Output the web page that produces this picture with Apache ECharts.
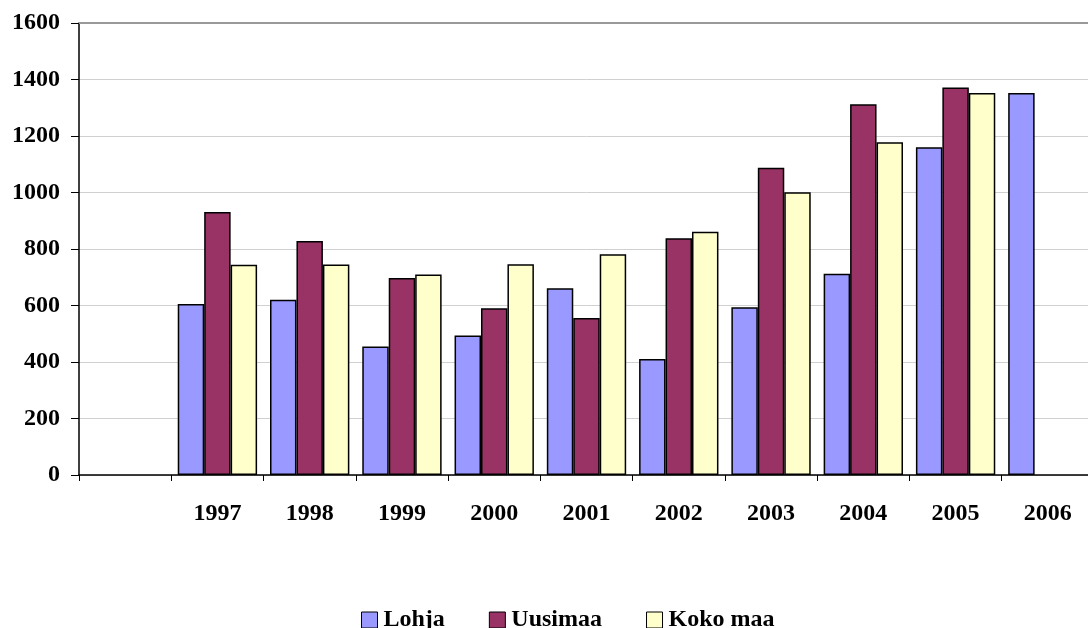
<!DOCTYPE html>
<html>
<head>
<meta charset="utf-8">
<script src="https://cdn.jsdelivr.net/npm/echarts@6/dist/echarts.min.js"></script>
<style>
  html, body { margin: 0; padding: 0; background: #fff; overflow: hidden; }
  #chart { width: 1095px; height: 628px; }
</style>
</head>
<body>
<div id="chart"></div>
<script>
// vuodet (ensimmäinen luokka tyhjä)
const years = ['', '1997', '1998', '1999', '2000', '2001', '2002', '2003', '2004', '2005', '2006']
const lohja = [null, 605, 620, 455, 494, 661, 411, 594, 712, 1160, 1352]
const uusimaa = [null, 931, 828, 697, 590, 556, 838, 1088, 1312, 1372, null]
const kokoMaa = [null, 744, 745, 710, 746, 781, 861, 1001, 1178, 1352, null]

const font = '"Liberation Serif", "Times New Roman", serif'
const chart = echarts.init(document.getElementById('chart'))

const bar = (name, data, color) => ({
  name,
  type: 'bar',
  data,
  barGap: '0%',
  barCategoryGap: '14%',
  itemStyle: {color, borderColor: '#000', borderWidth: 1.5}
})

chart.setOption({
  animation: false,
  textStyle: {fontFamily: font},
  // plot area runs a little past the right edge of the window
  grid: {left: 79, right: 1, top: 23, height: 452},
  legend: {
    top: 603,
    left: 356,
    icon: 'rect',
    itemWidth: 16,
    itemHeight: 16,
    itemGap: 44,
    textStyle: {fontFamily: font, fontWeight: 'bold', fontSize: 24, color: '#000', padding: [0, 0, 0, 1]},
    itemStyle: {borderColor: '#000', borderWidth: 1},
    data: ['Lohja', 'Uusimaa', 'Koko maa']
  },
  xAxis: [{
    type: 'category',
    data: years,
    axisLine: {lineStyle: {color: '#000', width: 1.5}},
    axisTick: {show: true, length: 6, lineStyle: {color: '#000'}},
    axisLabel: {fontFamily: font, fontWeight: 'bold', fontSize: 24, color: '#000', margin: 27}
  }, {
    type: 'category',
    position: 'top',
    data: years,
    axisLine: {lineStyle: {color: '#999', width: 2}},
    axisTick: {show: false},
    axisLabel: {show: false}
  }],
  yAxis: {
    type: 'value',
    min: 0,
    max: 1600,
    interval: 200,
    axisLine: {show: true, lineStyle: {color: '#000', width: 1.5}},
    axisTick: {show: true, length: 8, lineStyle: {color: '#000'}},
    axisLabel: {fontFamily: font, fontWeight: 'bold', fontSize: 24, color: '#000', margin: 19,
      formatter: v => String(v)},
    splitLine: {lineStyle: {color: '#d0d0d0', width: 1}}
  },
  series: [
    bar('Lohja', lohja, '#9999FF'),
    bar('Uusimaa', uusimaa, '#993366'),
    bar('Koko maa', kokoMaa, '#FFFFCC')
  ]
})
</script>
</body>
</html>
